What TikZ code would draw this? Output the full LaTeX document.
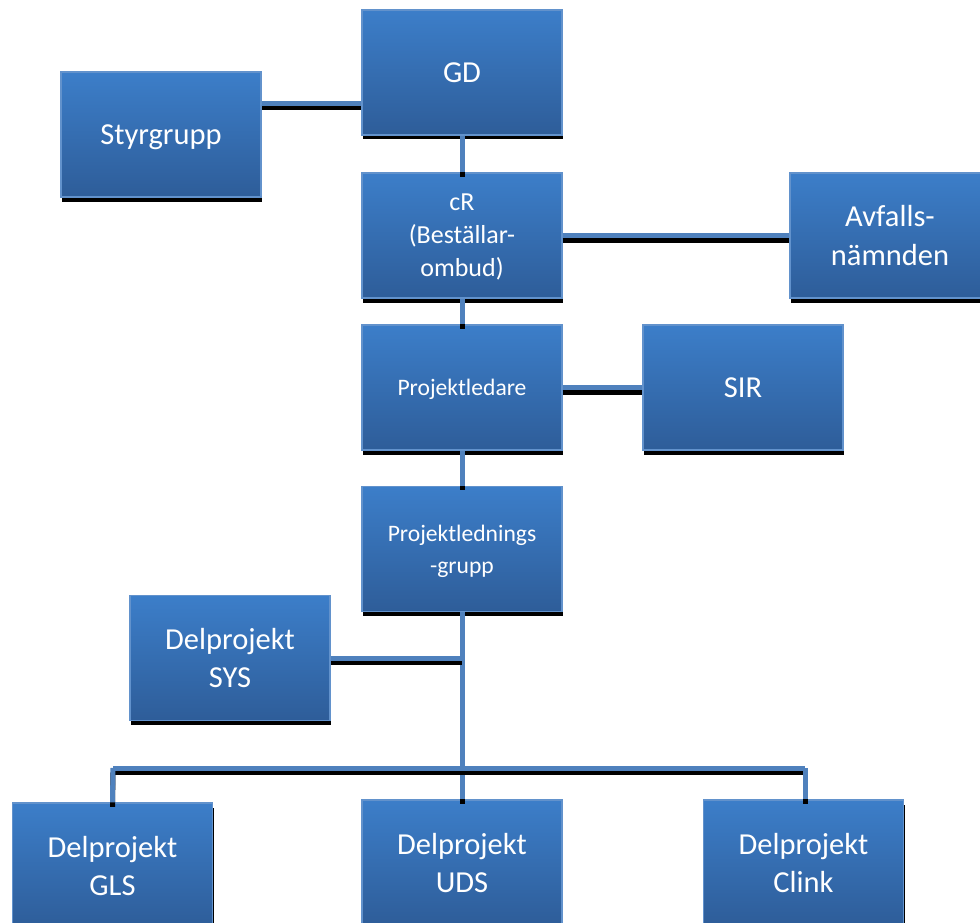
\documentclass[tikz,border=0pt]{standalone}
\usepackage{fontspec}
\setmainfont{Carlito}
\usetikzlibrary{shadows}
\definecolor{boxtop}{RGB}{60,126,201}
\definecolor{boxbot}{RGB}{46,93,153}
\definecolor{boxedge}{RGB}{98,146,204}
\definecolor{linkblue}{RGB}{79,129,189}
\begin{document}
\begin{tikzpicture}[x=1pt,y=-1pt,
  orgbox/.style={rectangle, minimum width=200pt, minimum height=125pt, inner sep=0pt,
    draw=boxedge, line width=1.2pt, top color=boxtop, bottom color=boxbot,
    text=white, align=center, text depth=0pt,
    drop shadow={shadow xshift=1pt, shadow yshift=-4.5pt, fill=black, opacity=1}},
  bigtext/.style={font=\fontsize{30.5}{38}\selectfont},
  midtext/.style={font=\fontsize{26}{33}\selectfont},
  smalltext/.style={font=\fontsize{23.6}{32}\selectfont},
  link/.style={line width=5pt, draw=linkblue,
    preaction={draw=black, line width=5pt, transform canvas={yshift=-4.5pt}}}
]
\useasboundingbox (0,0) rectangle (980,923);
\clip (0,0) rectangle (980,923);

\node[orgbox, bigtext] (gd) at (462,72.5) {GD};
\node[orgbox, bigtext] (styr) at (161,134.5) {Styrgrupp};
\node[orgbox, midtext] (cr) at (462,235.5) {cR\\(Beställar-\\ombud)};
\node[orgbox, bigtext, font=\fontsize{30.5}{39}\selectfont] (avf) at (890,235.5) {Avfalls-\\nämnden};
\node[orgbox, smalltext] (pl) at (462,387.5) {Projektledare};
\node[orgbox, bigtext] (sir) at (743,387.5) {SIR};
\node[orgbox, smalltext] (plg) at (462,549) {Projektlednings\\-grupp};
\node[orgbox, bigtext] (sys) at (230,658) {Delprojekt\\SYS};
\node[orgbox, bigtext] (gls) at (112.5,865.5) {Delprojekt\\GLS};
\node[orgbox, bigtext] (uds) at (462,862.5) {Delprojekt\\UDS};
\node[orgbox, bigtext] (clink) at (803.5,862.5) {Delprojekt\\Clink};

\coordinate (sg) at (261,103.5);
\coordinate (busL) at (113,768);
\coordinate (busR) at (805,768);

\draw[link] (styr.east |- sg) -- (gd.west |- sg);
\draw[link] (gd.south) -- (cr.north);
\draw[link] (cr.east) -- (avf.west);
\draw[link] (cr.south) -- (pl.north);
\draw[link] (pl.east) -- (sir.west);
\draw[link] (pl.south) -- (plg.north);
\draw[link] (plg.south) -- (uds.north);
\draw[link] (sys.east) -- (sys.east -| plg.south);
\draw[link] (busL) -- (busR);
\draw[link] (busL) -- (gls.north);
\draw[link] (busR) -- (clink.north -| busR);
\end{tikzpicture}
\end{document}
